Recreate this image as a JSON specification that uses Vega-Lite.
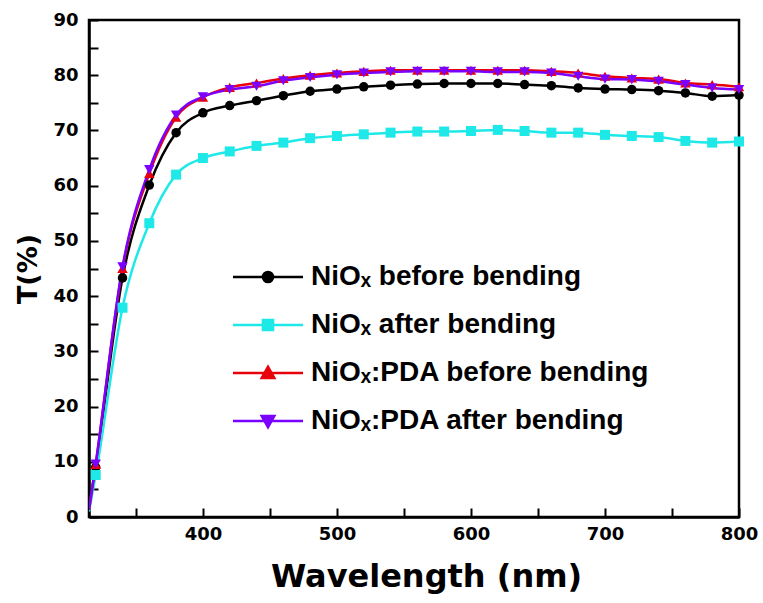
{
  "$schema": "https://vega.github.io/schema/vega-lite/v6.json",
  "width": 650,
  "height": 497,
  "autosize": {"type": "none"},
  "padding": {"left": 89, "top": 20, "right": 24, "bottom": 86},
  "background": "white",
  "config": {
    "view": {"stroke": "black", "strokeWidth": 2.5},
    "axis": {
      "domainColor": "black", "domainWidth": 2.5,
      "tickColor": "black", "tickWidth": 2,
      "labelFont": "DejaVu Sans", "labelFontWeight": "bold", "labelFontSize": 18, "labelColor": "black",
      "titleFont": "DejaVu Sans", "titleFontWeight": "bold", "titleColor": "black",
      "grid": false, "labelFlush": false, "labelOverlap": false
    }
  },
  "datasets": {
    "spectra": [
      {"s": "NiOₓ before bending", "wl": 315, "T": 1.3},
      {"s": "NiOₓ before bending", "wl": 320, "T": 9.0},
      {"s": "NiOₓ before bending", "wl": 340, "T": 43.3},
      {"s": "NiOₓ before bending", "wl": 360, "T": 60.1},
      {"s": "NiOₓ before bending", "wl": 380, "T": 69.6},
      {"s": "NiOₓ before bending", "wl": 400, "T": 73.2},
      {"s": "NiOₓ before bending", "wl": 420, "T": 74.5},
      {"s": "NiOₓ before bending", "wl": 440, "T": 75.4},
      {"s": "NiOₓ before bending", "wl": 460, "T": 76.3},
      {"s": "NiOₓ before bending", "wl": 480, "T": 77.1},
      {"s": "NiOₓ before bending", "wl": 500, "T": 77.5},
      {"s": "NiOₓ before bending", "wl": 520, "T": 77.9},
      {"s": "NiOₓ before bending", "wl": 540, "T": 78.2},
      {"s": "NiOₓ before bending", "wl": 560, "T": 78.4},
      {"s": "NiOₓ before bending", "wl": 580, "T": 78.5},
      {"s": "NiOₓ before bending", "wl": 600, "T": 78.5},
      {"s": "NiOₓ before bending", "wl": 620, "T": 78.5},
      {"s": "NiOₓ before bending", "wl": 640, "T": 78.3},
      {"s": "NiOₓ before bending", "wl": 660, "T": 78.1},
      {"s": "NiOₓ before bending", "wl": 680, "T": 77.7},
      {"s": "NiOₓ before bending", "wl": 700, "T": 77.5},
      {"s": "NiOₓ before bending", "wl": 720, "T": 77.4},
      {"s": "NiOₓ before bending", "wl": 740, "T": 77.2},
      {"s": "NiOₓ before bending", "wl": 760, "T": 76.8},
      {"s": "NiOₓ before bending", "wl": 780, "T": 76.2},
      {"s": "NiOₓ before bending", "wl": 800, "T": 76.4},
      {"s": "NiOₓ after bending", "wl": 315, "T": 1.0},
      {"s": "NiOₓ after bending", "wl": 320, "T": 7.6},
      {"s": "NiOₓ after bending", "wl": 340, "T": 37.9},
      {"s": "NiOₓ after bending", "wl": 360, "T": 53.2},
      {"s": "NiOₓ after bending", "wl": 380, "T": 62.0},
      {"s": "NiOₓ after bending", "wl": 400, "T": 65.0},
      {"s": "NiOₓ after bending", "wl": 420, "T": 66.2},
      {"s": "NiOₓ after bending", "wl": 440, "T": 67.2},
      {"s": "NiOₓ after bending", "wl": 460, "T": 67.8},
      {"s": "NiOₓ after bending", "wl": 480, "T": 68.6},
      {"s": "NiOₓ after bending", "wl": 500, "T": 69.0},
      {"s": "NiOₓ after bending", "wl": 520, "T": 69.3},
      {"s": "NiOₓ after bending", "wl": 540, "T": 69.6},
      {"s": "NiOₓ after bending", "wl": 560, "T": 69.8},
      {"s": "NiOₓ after bending", "wl": 580, "T": 69.8},
      {"s": "NiOₓ after bending", "wl": 600, "T": 69.9},
      {"s": "NiOₓ after bending", "wl": 620, "T": 70.1},
      {"s": "NiOₓ after bending", "wl": 640, "T": 69.9},
      {"s": "NiOₓ after bending", "wl": 660, "T": 69.6},
      {"s": "NiOₓ after bending", "wl": 680, "T": 69.6},
      {"s": "NiOₓ after bending", "wl": 700, "T": 69.2},
      {"s": "NiOₓ after bending", "wl": 720, "T": 69.0},
      {"s": "NiOₓ after bending", "wl": 740, "T": 68.8},
      {"s": "NiOₓ after bending", "wl": 760, "T": 68.1},
      {"s": "NiOₓ after bending", "wl": 780, "T": 67.8},
      {"s": "NiOₓ after bending", "wl": 800, "T": 68.0},
      {"s": "NiOₓ:PDA before bending", "wl": 315, "T": 1.3},
      {"s": "NiOₓ:PDA before bending", "wl": 320, "T": 9.5},
      {"s": "NiOₓ:PDA before bending", "wl": 340, "T": 45.0},
      {"s": "NiOₓ:PDA before bending", "wl": 360, "T": 62.2},
      {"s": "NiOₓ:PDA before bending", "wl": 380, "T": 72.4},
      {"s": "NiOₓ:PDA before bending", "wl": 400, "T": 76.0},
      {"s": "NiOₓ:PDA before bending", "wl": 420, "T": 77.8},
      {"s": "NiOₓ:PDA before bending", "wl": 440, "T": 78.6},
      {"s": "NiOₓ:PDA before bending", "wl": 460, "T": 79.4},
      {"s": "NiOₓ:PDA before bending", "wl": 480, "T": 80.0},
      {"s": "NiOₓ:PDA before bending", "wl": 500, "T": 80.4},
      {"s": "NiOₓ:PDA before bending", "wl": 520, "T": 80.7},
      {"s": "NiOₓ:PDA before bending", "wl": 540, "T": 80.9},
      {"s": "NiOₓ:PDA before bending", "wl": 560, "T": 80.9},
      {"s": "NiOₓ:PDA before bending", "wl": 580, "T": 80.9},
      {"s": "NiOₓ:PDA before bending", "wl": 600, "T": 80.9},
      {"s": "NiOₓ:PDA before bending", "wl": 620, "T": 80.9},
      {"s": "NiOₓ:PDA before bending", "wl": 640, "T": 80.9},
      {"s": "NiOₓ:PDA before bending", "wl": 660, "T": 80.7},
      {"s": "NiOₓ:PDA before bending", "wl": 680, "T": 80.4},
      {"s": "NiOₓ:PDA before bending", "wl": 700, "T": 79.8},
      {"s": "NiOₓ:PDA before bending", "wl": 720, "T": 79.5},
      {"s": "NiOₓ:PDA before bending", "wl": 740, "T": 79.3},
      {"s": "NiOₓ:PDA before bending", "wl": 760, "T": 78.6},
      {"s": "NiOₓ:PDA before bending", "wl": 780, "T": 78.3},
      {"s": "NiOₓ:PDA before bending", "wl": 800, "T": 77.9},
      {"s": "NiOₓ:PDA after bending", "wl": 315, "T": 1.3},
      {"s": "NiOₓ:PDA after bending", "wl": 320, "T": 9.6},
      {"s": "NiOₓ:PDA after bending", "wl": 340, "T": 45.3},
      {"s": "NiOₓ:PDA after bending", "wl": 360, "T": 62.9},
      {"s": "NiOₓ:PDA after bending", "wl": 380, "T": 72.8},
      {"s": "NiOₓ:PDA after bending", "wl": 400, "T": 76.1},
      {"s": "NiOₓ:PDA after bending", "wl": 420, "T": 77.4},
      {"s": "NiOₓ:PDA after bending", "wl": 440, "T": 78.0},
      {"s": "NiOₓ:PDA after bending", "wl": 460, "T": 79.0},
      {"s": "NiOₓ:PDA after bending", "wl": 480, "T": 79.6},
      {"s": "NiOₓ:PDA after bending", "wl": 500, "T": 80.1},
      {"s": "NiOₓ:PDA after bending", "wl": 520, "T": 80.4},
      {"s": "NiOₓ:PDA after bending", "wl": 540, "T": 80.6},
      {"s": "NiOₓ:PDA after bending", "wl": 560, "T": 80.7},
      {"s": "NiOₓ:PDA after bending", "wl": 580, "T": 80.7},
      {"s": "NiOₓ:PDA after bending", "wl": 600, "T": 80.7},
      {"s": "NiOₓ:PDA after bending", "wl": 620, "T": 80.6},
      {"s": "NiOₓ:PDA after bending", "wl": 640, "T": 80.6},
      {"s": "NiOₓ:PDA after bending", "wl": 660, "T": 80.4},
      {"s": "NiOₓ:PDA after bending", "wl": 680, "T": 79.8},
      {"s": "NiOₓ:PDA after bending", "wl": 700, "T": 79.3},
      {"s": "NiOₓ:PDA after bending", "wl": 720, "T": 79.2},
      {"s": "NiOₓ:PDA after bending", "wl": 740, "T": 78.9},
      {"s": "NiOₓ:PDA after bending", "wl": 760, "T": 78.3},
      {"s": "NiOₓ:PDA after bending", "wl": 780, "T": 77.7},
      {"s": "NiOₓ:PDA after bending", "wl": 800, "T": 77.4}
    ]
  },
  "data": {"name": "spectra"},
  "encoding": {
    "x": {
      "field": "wl", "type": "quantitative",
      "scale": {"domain": [315, 800], "nice": false, "zero": false},
      "axis": {
        "title": "Wavelength (nm)", "titleFontSize": 32, "titlePadding": 18, "titleX": 337,
        "values": [350, 400, 450, 500, 550, 600, 650, 700, 750, 800],
        "labelExpr": "datum.value % 100 === 0 ? datum.label : ''",
        "tickSize": -9, "labelPadding": 17,
        "encode": {"ticks": {"update": {"y2": {"signal": "datum.value % 100 === 0 ? -9 : -5"}}}}
      }
    },
    "y": {
      "field": "T", "type": "quantitative",
      "scale": {"domain": [0, 90], "nice": false},
      "axis": {
        "title": "T(%)", "titleFontSize": 27, "titlePadding": 10,
        "values": [0, 5, 10, 15, 20, 25, 30, 35, 40, 45, 50, 55, 60, 65, 70, 75, 80, 85, 90],
        "labelExpr": "datum.value % 10 === 0 ? datum.label : ''",
        "tickSize": -9, "labelPadding": 20,
        "encode": {"ticks": {"update": {"x2": {"signal": "datum.value % 10 === 0 ? 9 : 5"}}}}
      }
    },
    "color": {
      "field": "s", "type": "nominal",
      "scale": {
        "domain": ["NiOₓ before bending", "NiOₓ after bending", "NiOₓ:PDA before bending", "NiOₓ:PDA after bending"],
        "range": ["#000000", "#1ee8e8", "#e8000b", "#7a00ff"]
      },
      "legend": {
        "title": null, "orient": "none", "legendX": 160, "legendY": 238,
        "padding": 0, "rowPadding": 15, "labelOffset": 24,
        "labelFont": "Liberation Sans", "labelFontWeight": "bold", "labelFontSize": 28, "labelColor": "black",
        "labelLimit": 0, "symbolSize": 1225,
        "encode": {
          "symbols": {
            "update": {
              "shape": {"signal": "['M-2,0L2,0M-0.29,0A0.29,0.29 0 1,0 0.29,0A0.29,0.29 0 1,0 -0.29,0Z', 'M-2,0L2,0M-0.29,-0.29L0.29,-0.29L0.29,0.29L-0.29,0.29Z', 'M-2,0L2,0M-0.36,0.28L0.36,0.28L0,-0.36Z', 'M-2,0L2,0M-0.36,-0.28L0.36,-0.28L0,0.36Z'][indexof(domain('color'), datum.value)]"},
              "fill": {"signal": "scale('color', datum.value)"},
              "stroke": {"signal": "scale('color', datum.value)"},
              "strokeWidth": {"value": 2.5},
              "size": {"value": 1225},
              "opacity": {"value": 1}
            }
          }
        }
      }
    }
  },
  "layer": [
    {
      "mark": {"type": "line", "interpolate": "monotone", "strokeWidth": 2.5, "clip": true}
    },
    {
      "transform": [{"filter": "datum.wl >= 320 && datum.s === 'NiOₓ before bending'"}],
      "mark": {"type": "point", "filled": true, "opacity": 1, "size": 90, "shape": "circle"}
    },
    {
      "transform": [{"filter": "datum.wl >= 320 && datum.s === 'NiOₓ after bending'"}],
      "mark": {"type": "point", "filled": true, "opacity": 1, "size": 100, "shape": "square"}
    },
    {
      "transform": [{"filter": "datum.wl >= 320 && datum.s === 'NiOₓ:PDA before bending'"}],
      "mark": {"type": "point", "filled": true, "opacity": 1, "size": 110, "shape": "triangle-up"}
    },
    {
      "transform": [{"filter": "datum.wl >= 320 && datum.s === 'NiOₓ:PDA after bending'"}],
      "mark": {"type": "point", "filled": true, "opacity": 1, "size": 110, "shape": "triangle-down"}
    }
  ]
}
